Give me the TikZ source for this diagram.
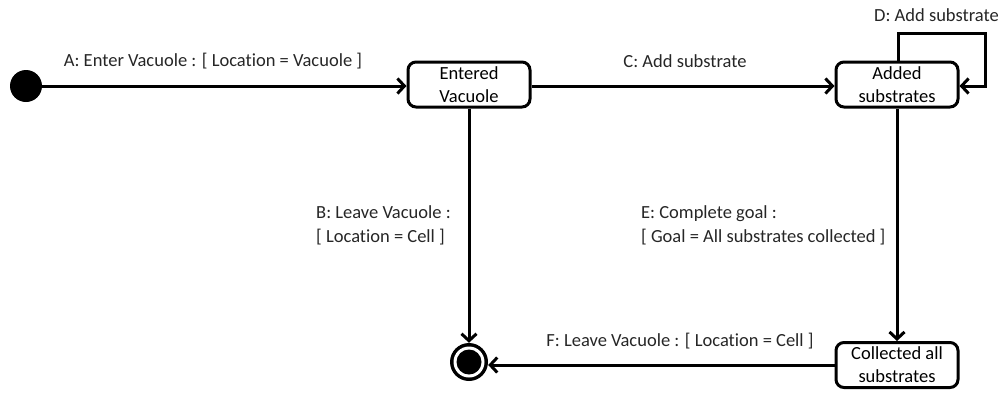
\documentclass[tikz,border=0pt]{standalone}
\usepackage{fontspec}
\setmainfont{Carlito}[Ligatures={NoCommon}]
\usetikzlibrary{arrows.meta}
\begin{document}
\begin{tikzpicture}[x=1pt,y=-1pt,
  state/.style={draw, line width=3pt, rounded corners=8pt, minimum width=122pt, minimum height=45pt, align=center, font=\fontsize{18.5}{23}\selectfont, inner sep=0pt, fill=white},
  trans/.style={draw, line width=3pt, -{Straight Barb[length=7pt,width=15pt,line width=3pt]}},
  lbl/.style={font=\fontsize{18.5}{24}\selectfont, inner sep=0pt, text=black!85}
]
\useasboundingbox (0,0) rectangle (1002,392);
\node[circle, fill=black, minimum size=32pt, inner sep=0pt] (init) at (26,86) {};
\node[state] (entered) at (469,84.5) {Entered\\Vacuole};
\node[state] (added) at (897,84.5) {Added\\substrates};
\node[state] (collected) at (897,365) {Collected all\\substrates};
\node[circle, fill=black, minimum size=38pt, inner sep=0pt] (final) at (469,362) {};
\node[circle, fill=white, minimum size=31pt, inner sep=0pt] at (final) {};
\node[circle, fill=black, minimum size=25pt, inner sep=0pt] at (final) {};
\coordinate (d1) at (898,33);
\coordinate (d2) at (985,33);
\coordinate (d3) at (985,86);

\draw[trans] (init) -- (entered.west |- init);
\draw[trans] (entered.east |- init) -- (added.west |- init);
\draw[trans] (entered.south) -- (final.north);
\draw[trans] (added.south) -- (collected.north);
\draw[trans] (collected.west |- 0,365) -- (final.east |- 0,365);
\draw[trans] (added.north -| d1) -- (d1) -- (d2) -- (d3) -- (added.east |- d3);

\node[lbl] (la) at (213,61) {A: Enter Vacuole : [ Location = Vacuole ]};
\node[lbl] (lc) at (685,61) {C: Add substrate};
\node[lbl, anchor=east] (ld) at (999,15) {D: Add substrate};
\node[lbl, align=left, anchor=west] (lb) at (316,225) {B: Leave Vacuole :\\{[} Location = Cell ]};
\node[lbl, align=left, anchor=west] (le) at (641,225) {E: Complete goal :\\{[} Goal = All substrates collected ]};
\node[lbl] (lf) at (680,341) {F: Leave Vacuole : [ Location = Cell ]};
\end{tikzpicture}
\end{document}
